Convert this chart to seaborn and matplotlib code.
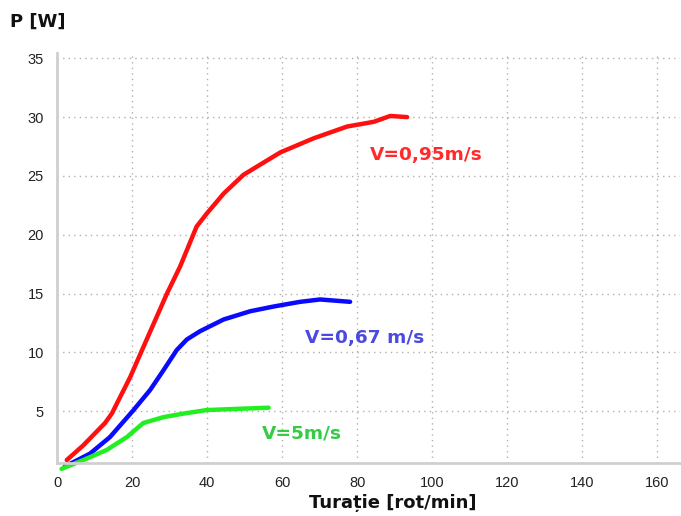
import matplotlib
matplotlib.use("Agg")
import matplotlib.pyplot as plt
import seaborn as sns
import pandas as pd

# --- data ---
red_x = [2.6, 7.0, 12.8, 14.6, 19.5, 23.9, 29.3, 32.8, 37.2, 39.9, 44.4, 49.7, 59.5, 68.4, 77.3, 84.4, 88.8, 93.3]
red_y = [0.85, 2.1, 4.0, 4.8, 7.9, 11.1, 15.0, 17.3, 20.7, 21.8, 23.5, 25.1, 27.0, 28.2, 29.2, 29.6, 30.1, 30.0]

blue_x = [2.1, 8.8, 14.1, 20.4, 24.8, 28.4, 31.9, 34.6, 38.1, 44.4, 51.5, 57.7, 64.8, 70.1, 78.1]
blue_y = [0.3, 1.4, 2.8, 5.1, 6.8, 8.5, 10.2, 11.1, 11.8, 12.8, 13.5, 13.9, 14.3, 14.5, 14.3]

green_x = [1.2, 7.0, 13.2, 18.6, 23.0, 28.4, 33.7, 39.9, 47.9, 56.4]
green_y = [0.1, 0.85, 1.7, 2.8, 4.0, 4.5, 4.8, 5.1, 5.2, 5.3]

series_labels = ["V=0,95m/s", "V=0,67 m/s", "V=5m/s"]
x_ticks = [0, 20, 40, 60, 80, 100, 120, 140, 160]
y_ticks = [5, 10, 15, 20, 25, 30, 35]

frames = []
for name, xs, ys in [(series_labels[0], red_x, red_y),
                     (series_labels[1], blue_x, blue_y),
                     (series_labels[2], green_x, green_y)]:
    frames.append(pd.DataFrame({"x": xs, "y": ys, "serie": name}))
df = pd.concat(frames, ignore_index=True)

sns.set_style("white")
plt.rcParams['font.family'] = ['Liberation Sans', 'DejaVu Sans']

fig = plt.figure(figsize=(6.81, 5.16), dpi=100)
ax = fig.add_axes([57/681, 1 - 463/516, 1 - 57/681 - 1/681, (463 - 53)/516])

line_colors = {series_labels[0]: "#ff1010", series_labels[1]: "#0a0aff", series_labels[2]: "#22ee22"}
sns.lineplot(data=df, x="x", y="y", hue="serie", palette=line_colors,
             linewidth=3.2, ax=ax, legend=False, sort=False, estimator=None)
for l in ax.lines:
    l.set_clip_on(False)
    l.set_solid_joinstyle("round")

ax.set_xlim(0, 166)
ax.set_ylim(0.6, 35.45)
ax.set_xticks(x_ticks)
ax.set_yticks(y_ticks)
ax.tick_params(axis="both", labelsize=10.5, colors="#c8c8c8", labelcolor="#222222",
               length=6, width=1, direction="out")
ax.grid(True, linestyle=(0, (1, 3)), color="#b0b0b0", linewidth=1)
for s in ["top", "right"]:
    ax.spines[s].set_visible(False)
for s in ["left", "bottom"]:
    ax.spines[s].set_color("#cfcfcf")
    ax.spines[s].set_linewidth(2)
ax.set_xlabel("")
ax.set_ylabel("")

bold = dict(fontweight="bold", family=["DejaVu Sans"])
ax.text(83.5, 26.8, series_labels[0], color="#ff2a2a", fontsize=13.3, va="center", ha="left", **bold)
ax.text(66.1, 11.2, series_labels[1], color="#4a4ae0", fontsize=13.3, va="center", ha="left", **bold)
ax.text(54.7, 3.15, series_labels[2], color="#33cc44", fontsize=13.3, va="center", ha="left", **bold)

fig.text(10/681, 1 - 22/516, "P [W]", fontsize=13, va="center", ha="left", color="#111111", **bold)
fig.text(393/681, 1 - 503/516, "Turație [rot/min]", fontsize=13, va="center", ha="center",
         color="#111111", **bold)

fig.savefig("out.png", dpi=100)
